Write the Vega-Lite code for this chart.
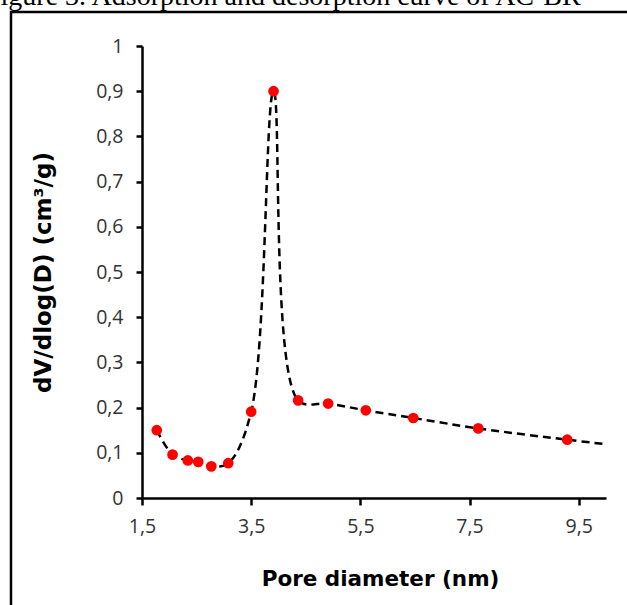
{
  "$schema": "https://vega.github.io/schema/vega-lite/v6.json",
  "autosize": {"type": "none"},
  "padding": {"left": 11, "top": 12, "right": 0, "bottom": 0},
  "width": 630,
  "height": 600,
  "background": "white",
  "title": {
    "text": "Figure 3. Adsorption and desorption curve of AC-BR",
    "anchor": "start",
    "frame": "group",
    "orient": "top",
    "baseline": "alphabetic",
    "offset": -21,
    "dx": -26,
    "font": "Liberation Serif",
    "fontSize": 28,
    "fontWeight": "normal",
    "color": "black"
  },
  "config": {
    "view": {"stroke": "black", "strokeWidth": 2.5},
    "axis": {"grid": false}
  },
  "data": {
    "values": [
      {"d": 1.77, "v": 0.150, "marker": true},
      {"d": 2.06, "v": 0.096, "marker": true},
      {"d": 2.34, "v": 0.083, "marker": true},
      {"d": 2.53, "v": 0.080, "marker": true},
      {"d": 2.77, "v": 0.070, "marker": true},
      {"d": 3.08, "v": 0.077, "marker": true},
      {"d": 3.50, "v": 0.191, "marker": true},
      {"d": 3.91, "v": 0.900, "marker": true},
      {"d": 4.36, "v": 0.216, "marker": true},
      {"d": 4.91, "v": 0.209, "marker": true},
      {"d": 5.60, "v": 0.194, "marker": true},
      {"d": 6.47, "v": 0.177, "marker": true},
      {"d": 7.66, "v": 0.154, "marker": true},
      {"d": 9.29, "v": 0.129, "marker": true},
      {"d": 10.0, "v": 0.119, "marker": false}
    ]
  },
  "encoding": {
    "x": {
      "field": "d",
      "type": "quantitative",
      "scale": {"domain": [1.5, 10], "range": [131, 595], "nice": false, "zero": false},
      "axis": {
        "title": "Pore diameter (nm)",
        "offset": -114,
        "values": [1.5, 3.5, 5.5, 7.5, 9.5],
        "labelExpr": "replace(format(datum.value, '.1f'), '.', ',')",
        "domainColor": "black",
        "domainWidth": 2.5,
        "tickColor": "black",
        "tickWidth": 2.5,
        "tickSize": 7,
        "labelFont": "Open Sans",
        "labelFontSize": 19.5,
        "labelColor": "#333333",
        "labelPadding": 12,
        "labelFlush": false,
        "titleFont": "DejaVu Sans",
        "titleFontSize": 21.5,
        "titleFontWeight": "bold",
        "titleColor": "black",
        "titlePadding": 33,
        "titleX": 369
      }
    },
    "y": {
      "field": "v",
      "type": "quantitative",
      "scale": {"domain": [0, 1], "range": [486, 34], "nice": false},
      "axis": {
        "title": "dV/dlog(D) (cm³/g)",
        "offset": -131,
        "values": [0, 0.1, 0.2, 0.3, 0.4, 0.5, 0.6, 0.7, 0.8, 0.9, 1],
        "labelExpr": "datum.value == 0 ? '0' : datum.value == 1 ? '1' : replace(format(datum.value, '.1f'), '.', ',')",
        "domainColor": "black",
        "domainWidth": 2.5,
        "tickColor": "black",
        "tickWidth": 2.5,
        "tickSize": 6,
        "labelFont": "Open Sans",
        "labelFontSize": 19.5,
        "labelColor": "#333333",
        "labelPadding": 13,
        "labelFlush": false,
        "titleFont": "DejaVu Sans",
        "titleFontSize": 23,
        "titleFontWeight": "bold",
        "titleColor": "black",
        "titlePadding": 40
      }
    }
  },
  "layer": [
    {
      "mark": {"type": "line", "interpolate": "catmull-rom", "color": "black", "strokeWidth": 2.5, "strokeDash": [8, 5]}
    },
    {
      "transform": [{"filter": "datum.marker"}],
      "mark": {"type": "point", "shape": "circle", "filled": true, "color": "#ff0000", "opacity": 1, "size": 115}
    }
  ]
}
